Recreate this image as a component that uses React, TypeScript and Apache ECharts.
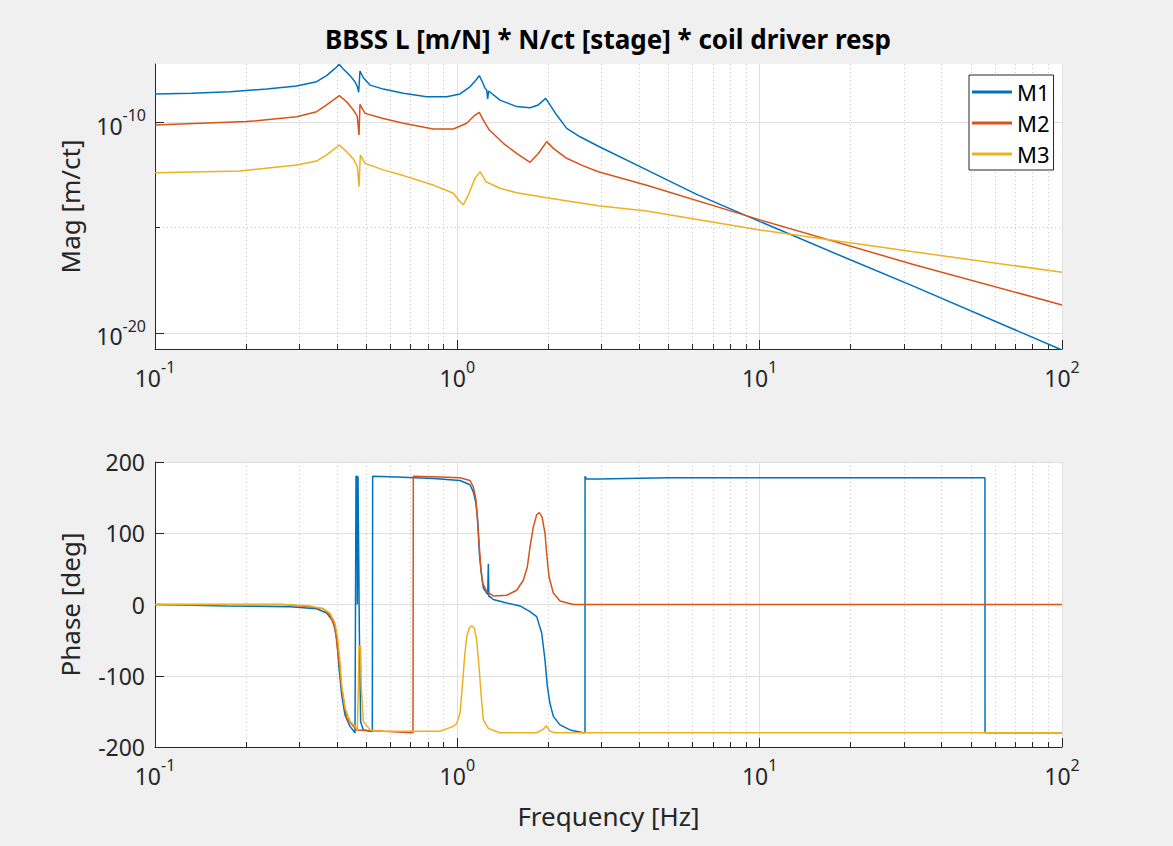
import React, { useEffect, useRef } from "react";
import * as echarts from "echarts";

// ---------------- data ----------------
const seriesNames = ["M1", "M2", "M3"];
const seriesColors = ["#0072BD", "#D95319", "#EDB120"];

// x ticks: exponents of 10 (Hz)
const xTickExponents = [-1, 0, 1, 2];
const xMinorMultipliers = [2, 3, 4, 5, 6, 7, 8, 9];
const xMinorDecades = [0.1, 1, 10];
// magnitude axis ticks (exponents of 10, m/ct)
const magTickExponents = [-20, -10];
const magMinorExponents = [-15];
const phaseTicks = [-200, -100, 0, 100, 200];

// Magnitude: frequency [Hz] and log10(|H| [m/ct])
const m1MagFreq = [0.1, 0.1322, 0.177, 0.234, 0.2941, 0.3424, 0.3696, 0.3939, 0.4072, 0.4196, 0.4416, 0.4587, 0.4669, 0.4717, 0.4764, 0.4888, 0.5142, 0.569, 0.6627, 0.7917, 0.9221, 1.0205, 1.1012, 1.1526, 1.1822, 1.2094, 1.2346, 1.2503, 1.2598, 1.2695, 1.3836, 1.5711, 1.7394, 1.8532, 1.9596, 2.0255, 2.1313, 2.3001, 2.5457, 2.9274, 4.229, 6.19, 10.03, 19.4, 32.23, 100];
const m1MagExp = [-8.67, -8.64, -8.56, -8.44, -8.29, -8.09, -7.8, -7.46, -7.27, -7.49, -7.8, -8.09, -8.33, -8.59, -7.58, -7.9, -8.25, -8.44, -8.64, -8.8, -8.8, -8.67, -8.33, -8.01, -7.8, -8.09, -8.4, -8.48, -8.91, -8.53, -8.96, -9.27, -9.32, -9.19, -8.88, -9.19, -9.67, -10.3, -10.7, -11.15, -12.27, -13.43, -14.72, -16.46, -17.78, -20.81];

const m2MagFreq = [0.1, 0.201, 0.2941, 0.3424, 0.3696, 0.4072, 0.4305, 0.4529, 0.4669, 0.4729, 0.4764, 0.4951, 0.569, 0.6627, 0.8329, 0.97, 1.0737, 1.1439, 1.1822, 1.219, 1.2759, 1.4196, 1.5711, 1.7394, 1.8532, 1.9747, 2.0775, 2.3001, 2.6109, 2.9274, 4.229, 10.03, 32.23, 100];
const m2MagExp = [-10.14, -9.98, -9.75, -9.51, -9.19, -8.75, -9.04, -9.43, -9.75, -10.62, -9.16, -9.59, -9.83, -10.06, -10.33, -10.33, -10.06, -9.67, -9.54, -9.91, -10.38, -11.01, -11.49, -11.91, -11.49, -10.93, -11.25, -11.72, -12.08, -12.36, -13.0, -14.64, -16.75, -18.67];

const m3MagFreq = [0.1, 0.191, 0.2941, 0.3424, 0.3696, 0.4072, 0.4305, 0.4529, 0.4669, 0.4729, 0.4776, 0.4951, 0.569, 0.6627, 0.8329, 0.97, 1.0205, 1.0467, 1.0873, 1.1439, 1.1885, 1.2439, 1.3836, 1.5711, 1.9747, 2.9274, 4.229, 10.03, 32.23, 100];
const m3MagExp = [-12.4, -12.32, -12.04, -11.85, -11.56, -11.09, -11.41, -11.75, -12.12, -13.07, -11.56, -11.96, -12.27, -12.54, -12.99, -13.38, -13.78, -13.93, -13.46, -12.67, -12.35, -12.83, -13.14, -13.35, -13.59, -13.97, -14.22, -15.12, -16.15, -17.12];

// Phase: frequency [Hz] and phase [deg]
const m1PhaseFreq = [0.1, 0.1725, 0.2796, 0.3424, 0.3696, 0.3889, 0.399, 0.4061, 0.4144, 0.425, 0.4416, 0.4587, 0.461, 0.4622, 0.4657, 0.4669, 0.4693, 0.4717, 0.4741, 0.4789, 0.4888, 0.5142, 0.5234, 0.5247, 0.63, 0.8329, 1.0205, 1.1012, 1.1295, 1.1527, 1.1676, 1.1825, 1.1976, 1.219, 1.2503, 1.26, 1.2663, 1.272, 1.2825, 1.3152, 1.4564, 1.6119, 1.7394, 1.8298, 1.901, 1.9498, 1.9848, 2.0254, 2.0775, 2.1853, 2.359, 2.6109, 2.6443, 2.645, 2.6779, 2.9274, 5.0, 55.6, 55.65, 100];
const m1Phase = [0, -2, -3, -6, -12, -24, -47, -89, -127, -155, -171, -180, -180, 180, 180, 0, 180, 76, -36, -165, -176, -178, -178, 180, 179, 177, 174, 168, 158, 142, 119, 72, 48, 23, 16, 14, 57, 11, 11, 7, 2, -2, -10, -17, -40, -78, -115, -139, -157, -169, -176, -180, -180, 180, 176, 176, 178, 178, -180, -180];

const m2PhaseFreq = [0.1, 0.2657, 0.3257, 0.3603, 0.3791, 0.3939, 0.404, 0.4144, 0.4305, 0.4529, 0.4645, 0.569, 0.7134, 0.7152, 0.8764, 1.0205, 1.1012, 1.1295, 1.1527, 1.1676, 1.1825, 1.1976, 1.2129, 1.2503, 1.3152, 1.4564, 1.5713, 1.6533, 1.7043, 1.7394, 1.784, 1.8298, 1.8668, 1.9059, 1.9498, 1.9747, 2.01, 2.0775, 2.1853, 2.4196, 100];
const m2Phase = [0, 0, -3, -6, -15, -33, -71, -117, -159, -171, -176, -178, -180, 180, 179, 178, 174, 165, 147, 114, 81, 48, 30, 18, 12, 13, 20, 34, 53, 81, 109, 126, 129, 123, 100, 72, 39, 16, 5, 0, 0];

const m3PhaseFreq = [0.1, 0.2657, 0.3257, 0.3603, 0.3791, 0.3939, 0.402, 0.4092, 0.4144, 0.425, 0.4416, 0.4587, 0.4669, 0.4705, 0.4729, 0.4789, 0.4813, 0.4888, 0.5142, 0.569, 0.7335, 0.8764, 0.97, 0.9949, 1.0205, 1.0387, 1.0548, 1.0737, 1.0957, 1.1153, 1.1381, 1.1588, 1.1795, 1.1976, 1.219, 1.2663, 1.3834, 1.8298, 1.9253, 1.9648, 2.0254, 2.1039, 100];
const m3Phase = [0, 0, -2, -6, -12, -26, -47, -80, -113, -145, -164, -171, -176, -117, -59, -59, -117, -164, -176, -178, -178, -178, -171, -167, -153, -115, -78, -45, -33, -30, -33, -50, -87, -125, -162, -174, -180, -180, -175, -170, -178, -180, -180];

// ---------------- styling ----------------
const FONT = "'Noto Sans', 'Open Sans', 'DejaVu Sans', sans-serif";
const AX = "#262626";
const GRID_MAJOR = "#dfdfdf";
const GRID_MINOR = "#c8c8c8";

const richPow = {
  b: { fontSize: 23, fontFamily: FONT, color: AX, lineHeight: 30, verticalAlign: "bottom" },
  s: { fontSize: 16, fontFamily: FONT, color: AX, lineHeight: 30, verticalAlign: "top" },
};
const powFmt = (v: number) => `{b|10}{s|${Math.round(v)}}`;

const minorXValues = xMinorDecades.flatMap((d) => xMinorMultipliers.map((m) => Math.log10(m * d)));

function App() {
  const ref = useRef<HTMLDivElement>(null);
  useEffect(() => {
    if (!ref.current) return;
    const chart = echarts.init(ref.current, null, { renderer: "svg" });

    const toPts = (f: number[], v: number[]) => f.map((x, i) => [Math.log10(x), v[i]]);
    const magSets = [
      [m1MagFreq, m1MagExp],
      [m2MagFreq, m2MagExp],
      [m3MagFreq, m3MagExp],
    ];
    const phaseSets = [
      [m1PhaseFreq, m1Phase],
      [m2PhaseFreq, m2Phase],
      [m3PhaseFreq, m3Phase],
    ];
    const series: any[] = [];
    magSets.forEach(([f, v], i) =>
      series.push({
        type: "line",
        name: seriesNames[i],
        xAxisIndex: 0,
        yAxisIndex: 0,
        data: toPts(f, v),
        showSymbol: false,
        symbol: "none",
        lineStyle: { width: 1.5, color: seriesColors[i] },
        itemStyle: { color: seriesColors[i] },
        z: 5,
      })
    );
    phaseSets.forEach(([f, v], i) =>
      series.push({
        type: "line",
        name: seriesNames[i],
        xAxisIndex: 2,
        yAxisIndex: 2,
        data: toPts(f, v),
        showSymbol: false,
        symbol: "none",
        lineStyle: { width: 1.5, color: seriesColors[i] },
        itemStyle: { color: seriesColors[i] },
        z: 5,
      })
    );

    const majorX = (grid: number, name?: string) => ({
      type: "value",
      gridIndex: grid,
      position: "bottom",
      min: xTickExponents[0],
      max: xTickExponents[xTickExponents.length - 1],
      interval: 1,
      name,
      nameLocation: "middle",
      nameGap: 56,
      nameTextStyle: { fontSize: 26, fontFamily: FONT, color: AX },
      axisLine: { show: true, onZero: false, lineStyle: { color: AX, width: 1 } },
      axisTick: { show: true, inside: true, length: 9, lineStyle: { color: AX, width: 1 } },
      axisLabel: { formatter: powFmt, rich: richPow, margin: 10, color: AX },
      splitLine: { show: true, lineStyle: { color: GRID_MAJOR, width: 1 } },
    });
    const minorX = (grid: number) => ({
      type: "value",
      gridIndex: grid,
      position: "top",
      offset: -285,
      min: xTickExponents[0],
      max: xTickExponents[xTickExponents.length - 1],
      axisLine: { show: false, onZero: false },
      axisTick: { show: true, inside: false, length: 5, customValues: minorXValues, lineStyle: { color: AX, width: 1 } },
      axisLabel: { show: false },
      splitLine: { show: true, lineStyle: { color: GRID_MINOR, width: 1, type: [1, 3] } },
    });

    const option: any = {
      animation: false,
      backgroundColor: "#f0f0f0",
      textStyle: { fontFamily: FONT },
      title: {
        text: "BBSS L [m/N] * N/ct [stage] * coil driver resp",
        left: 608,
        top: 26,
        textAlign: "center",
        padding: 0,
        textStyle: { fontSize: 26, fontWeight: "bold", color: "#000", fontFamily: FONT },
      },
      legend: {
        data: seriesNames,
        orient: "vertical",
        left: 969,
        top: 75,
        backgroundColor: "#fff",
        borderColor: AX,
        borderWidth: 1,
        borderRadius: 0,
        padding: [6, 4, 5, 3],
        itemGap: 9,
        itemWidth: 40,
        itemHeight: 3,
        icon: "rect",
        textStyle: { fontSize: 22, color: "#000", fontFamily: FONT },
      },
      grid: [
        { left: 155, top: 64, width: 907, height: 285, show: true, backgroundColor: "#fff", borderWidth: 0 },
        { left: 155, top: 462, width: 907, height: 285, show: true, backgroundColor: "#fff", borderWidth: 0 },
      ],
      xAxis: [majorX(0), minorX(0), majorX(1, "Frequency [Hz]"), minorX(1)],
      yAxis: [
        {
          type: "value",
          gridIndex: 0,
          position: "left",
          min: -20.76,
          max: -7.25,
          name: "Mag [m/ct]",
          nameLocation: "middle",
          nameGap: 72,
          nameTextStyle: { fontSize: 26, fontFamily: FONT, color: AX },
          axisLine: { show: true, onZero: false, lineStyle: { color: AX, width: 1 } },
          axisTick: { show: true, inside: true, length: 9, customValues: magTickExponents, lineStyle: { color: AX } },
          axisLabel: { customValues: magTickExponents, formatter: powFmt, rich: richPow, margin: 9 },
          splitLine: { show: true, lineStyle: { color: GRID_MAJOR, width: 1 } },
        },
        {
          type: "value",
          gridIndex: 0,
          position: "right",
          offset: -907,
          min: -20.76,
          max: -7.25,
          axisLine: { show: false, onZero: false },
          axisTick: { show: true, inside: false, length: 5, customValues: magMinorExponents, lineStyle: { color: AX } },
          axisLabel: { show: false },
          splitLine: { show: true, lineStyle: { color: GRID_MINOR, width: 1, type: [1, 3] } },
        },
        {
          type: "value",
          gridIndex: 1,
          position: "left",
          min: phaseTicks[0],
          max: phaseTicks[phaseTicks.length - 1],
          interval: 100,
          name: "Phase [deg]",
          nameLocation: "middle",
          nameGap: 72,
          nameTextStyle: { fontSize: 26, fontFamily: FONT, color: AX },
          axisLine: { show: true, onZero: false, lineStyle: { color: AX, width: 1 } },
          axisTick: { show: true, inside: true, length: 9, lineStyle: { color: AX } },
          axisLabel: { fontSize: 23, color: AX, fontFamily: FONT, margin: 10 },
          splitLine: { show: true, lineStyle: { color: GRID_MAJOR, width: 1 } },
        },
      ],
      series,
    };
    chart.setOption(option);
    return () => chart.dispose();
  }, []);

  return (
    <div
      ref={ref}
      style={{ position: "fixed", left: 0, top: 0, width: 1173, height: 846, background: "#f0f0f0" }}
    />
  );
}

export default App;
